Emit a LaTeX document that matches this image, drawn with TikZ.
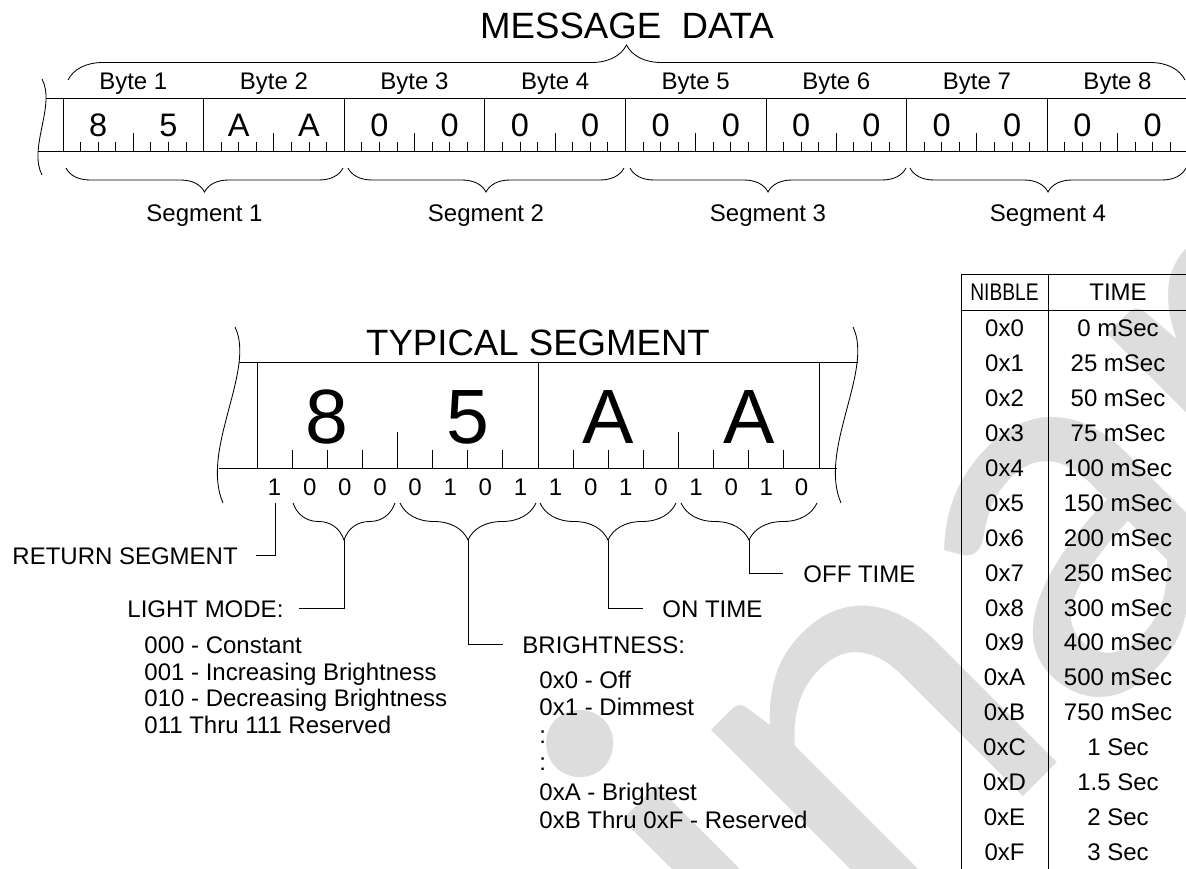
\documentclass[tikz,border=0pt]{standalone}
\usepackage{graphicx}
\usepackage{fontspec}
\setmainfont{Liberation Sans}
\newfontfamily\wmfont{Carlito}
\usetikzlibrary{decorations.pathreplacing}
\definecolor{wmgray}{RGB}{221,221,221}
\begin{document}
\begin{tikzpicture}[x=1pt,y=-1pt,line width=0.85pt,
  every node/.style={inner sep=0pt},
  lbl/.style={font=\fontsize{24}{28}\selectfont},
  big/.style={font=\fontsize{36.6}{40}\selectfont},
  regdig/.style={font=\fontsize{32.5}{36}\selectfont},
  hugedig/.style={font=\fontsize{77}{80}\selectfont},
  brc/.style={decorate,decoration={brace,amplitude=#1}},
  brcm/.style={decorate,decoration={brace,mirror,amplitude=#1}},
  wm/.style={text=wmgray,font=\wmfont\fontsize{560}{560}\selectfont,rotate=45}]
\useasboundingbox (0,0) rectangle (1186,869);
% watermark
\node[wm,anchor=base west] (water) at (-250,2070) {Preliminary};

% ---------- message data ----------
\node[big,anchor=base] (title) at (627,38.3) {MESSAGE\ \ DATA};
\draw[brc=35pt] (68,80) -- (1185,80);
\draw (46,98) -- (1190,98);
\draw (38,151) -- (1190,151);
\draw (42,79) .. controls (56,105) and (28,148) .. (42,175);
\foreach \i/\a/\b [evaluate=\i as \xl using 63+140.6*\i, count=\n] in {0/8/5,1/A/A,2/0/0,3/0/0,4/0/0,5/0/0,6/0/0,7/0/0} {
  \draw (\xl,98) -- (\xl,151);
  \foreach \k in {1,2,3,5,6,7} \draw (\xl+17.575*\k,142) -- (\xl+17.575*\k,151);
  \draw (\xl+70.3,133) -- (\xl+70.3,151);
  \node[lbl,anchor=base] (byte\n) at (\xl+70.3,89.3) {Byte \n};
  \node[regdig,anchor=base] (hi\n) at (\xl+35.15,137) {\a};
  \node[regdig,anchor=base] (lo\n) at (\xl+105.45,137) {\b};
}
\foreach \a/\b/\n in {66/343/1,348/624/2,630/906/3,910/1186/4} {
  \draw[brcm=24pt] (\a,168) -- (\b,168);
  \node[lbl,anchor=base] (seg\n) at ({(\a+\b)/2},222) {Segment \n};
}

% ---------- typical segment ----------
\node[big,anchor=base] (tstitle) at (538,355) {TYPICAL SEGMENT};
\draw (239,362) -- (858,362);
\draw (219,468) -- (837,468);
\draw (235,327) .. controls (256,370) and (200,450) .. (223,503);
\draw (853,327) .. controls (874,370) and (818,450) .. (841,503);
\foreach \x in {257,538,819} \draw (\x,362) -- (\x,468);
\foreach \k in {1,2,3,5,6,7,9,10,11,13,14,15} \draw (257+35.125*\k,450) -- (257+35.125*\k,468);
\foreach \k in {4,12} \draw (257+35.125*\k,432) -- (257+35.125*\k,468);
\foreach \d [count=\n] in {8,5,A,A}
  \node[hugedig,anchor=base] (nib\n) at (186.75+140.5*\n,443) {\d};
\foreach \b [count=\n] in {1,0,0,0,0,1,0,1,1,0,1,0,1,0,1,0}
  \node[lbl,anchor=base] (bit\n) at (239.44+35.125*\n,495) {\b};

\draw[brcm=37pt] (293,503) -- (395,503);
\draw[brcm=37pt] (400,503) -- (536,503);
\draw[brcm=37pt] (540,503) -- (676,503);
\draw[brcm=37pt] (681,503) -- (817,503);
\coordinate (tipRS) at (275,503);
\coordinate (tipLM) at (344,540);
\coordinate (tipBR) at (468,540);
\coordinate (tipON) at (608.5,540);
\coordinate (tipOFF) at (749,540);

\node[lbl,anchor=base west] (rs) at (12,564) {RETURN SEGMENT};
\draw (tipRS) |- ([xshift=18pt]rs.east);

\node[lbl,anchor=base west] (lm) at (127,617) {LIGHT MODE:};
\draw (tipLM) |- ([xshift=15pt]lm.east);
\node[lbl,anchor=base west] (lm1) at (144,653) {000 - Constant};
\node[lbl,anchor=base west] (lm2) at (144,680) {001 - Increasing Brightness};
\node[lbl,anchor=base west] (lm3) at (144,706.5) {010 - Decreasing Brightness};
\node[lbl,anchor=base west] (lm4) at (144,733) {011 Thru 111 Reserved};

\node[lbl,anchor=base west] (br) at (522,653) {BRIGHTNESS:};
\draw (tipBR) |- ([xshift=-19pt]br.west);
\node[lbl,anchor=base west] (br1) at (539,688) {0x0 - Off};
\node[lbl,anchor=base west] (br2) at (539,715) {0x1 - Dimmest};
\node[lbl,anchor=base west] (br3) at (539,743) {:};
\node[lbl,anchor=base west] (br4) at (539,770) {:};
\node[lbl,anchor=base west] (br5) at (539,800) {0xA - Brightest};
\node[lbl,anchor=base west] (br6) at (539,828) {0xB Thru 0xF - Reserved};

\node[lbl,anchor=base west] (on) at (662,617) {ON TIME};
\draw (tipON) |- ([xshift=-19pt]on.west);
\node[lbl,anchor=base west] (off) at (803,582) {OFF TIME};
\draw (tipOFF) |- ([xshift=-20pt]off.west);

% ---------- table ----------
\draw (961,274) -- (1190,274);
\draw (961,310) -- (1190,310);
\draw (961,274) -- (961,880);
\draw (1048,274) -- (1048,880);
\node[lbl,anchor=base] (hnib) at (1004.5,300.6) {\scalebox{0.8}[1]{NIBBLE}};
\node[lbl,anchor=base] (htime) at (1118,300.6) {TIME};
\foreach \h/\t [count=\r from 0] in {0/0 mSec,1/25 mSec,2/50 mSec,3/75 mSec,4/100 mSec,5/150 mSec,6/200 mSec,7/250 mSec,8/300 mSec,9/400 mSec,A/500 mSec,B/750 mSec,C/1 Sec,D/1.5 Sec,E/2 Sec,F/3 Sec} {
  \node[lbl,anchor=base] (nb\r) at (1004.5,336.6+34.93*\r) {0x\h};
  \node[lbl,anchor=base] (tm\r) at (1118,336.6+34.93*\r) {\t};
}
\end{tikzpicture}
\end{document}
